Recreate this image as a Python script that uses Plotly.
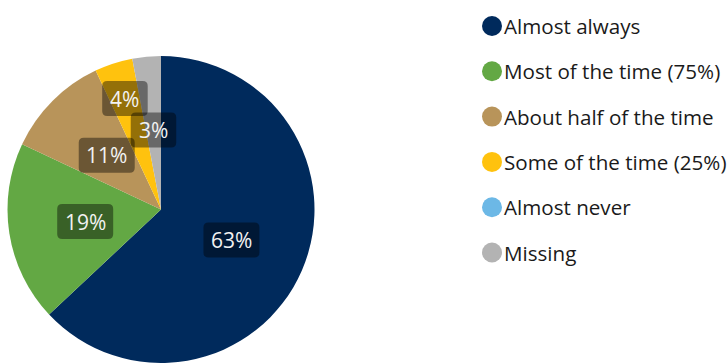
import math
import plotly.graph_objects as go

# Response categories and their shares (%)
categories = [
    "Almost always",
    "Most of the time (75%)",
    "About half of the time",
    "Some of the time (25%)",
    "Almost never",
    "Missing",
]
shares = [63, 19, 11, 4, 0, 3]
colors = ["#002A5C", "#63A844", "#B8945A", "#FFC20E", "#6CB8E6", "#B3B3B3"]
# radial placement of each value label, as a fraction of the radius
label_radius = [0.5, 0.5, 0.5, 0.76, 0.5, 0.52]

W, H = 728, 363
FONT = "Open Sans"

# pie placement in pixels
pie_left, pie_right, pie_top = 6, 316, 56
cx_px = (pie_left + pie_right) / 2
radius_px = min(pie_right - pie_left, H - pie_top) / 2
cy_px = pie_top + radius_px

fig = go.Figure(
    go.Pie(
        labels=categories,
        values=shares,
        marker=dict(colors=colors, line=dict(width=0)),
        sort=False,
        direction="clockwise",
        rotation=0,
        textinfo="none",
        hoverinfo="label+percent",
        showlegend=False,
        domain=dict(x=[pie_left / W, pie_right / W], y=[0, 1 - pie_top / H]),
    )
)

shapes = []
annotations = []


def rounded_rect(w, h, r):
    x0, x1, y0, y1 = -w / 2, w / 2, -h / 2, h / 2
    return (
        f"M {x0 + r},{y0} L {x1 - r},{y0} Q {x1},{y0} {x1},{y0 + r} "
        f"L {x1},{y1 - r} Q {x1},{y1} {x1 - r},{y1} "
        f"L {x0 + r},{y1} Q {x0},{y1} {x0},{y1 - r} "
        f"L {x0},{y0 + r} Q {x0},{y0} {x0 + r},{y0} Z"
    )


# value labels on dark rounded boxes, placed at each slice's mid-angle
total = sum(shares)
cum = 0
for val, frac in zip(shares, label_radius):
    start = cum
    cum += val
    if val == 0:
        continue
    mid = (start + val / 2) / total * 2 * math.pi
    px = cx_px + frac * radius_px * math.sin(mid)
    py = cy_px - frac * radius_px * math.cos(mid)
    xa, ya = px / W, 1 - py / H
    text = f"{round(val / total * 100)}%"
    digits = len(text) - 1
    bw = 10.5 * digits + 16 + 19
    bh = 35
    shapes.append(dict(
        type="path", xref="paper", yref="paper",
        xsizemode="pixel", ysizemode="pixel", xanchor=xa, yanchor=ya,
        path=rounded_rect(bw, bh, 5),
        fillcolor="rgba(0,0,0,0.42)", line=dict(width=0), layer="above",
    ))
    annotations.append(dict(
        x=xa, y=ya, xref="paper", yref="paper", text=text, showarrow=False,
        font=dict(family=FONT, size=21, color="#F2F2F2"),
        xanchor="center", yanchor="middle",
    ))

# legend: circle markers with category names
leg_x, leg_y0, leg_step, dot_d = 492, 26, 45.3, 20
for i, (name, col) in enumerate(zip(categories, colors)):
    y = 1 - (leg_y0 + i * leg_step) / H
    shapes.append(dict(
        type="circle", xref="paper", yref="paper",
        xsizemode="pixel", ysizemode="pixel", xanchor=leg_x / W, yanchor=y,
        x0=-dot_d / 2, x1=dot_d / 2, y0=-dot_d / 2, y1=dot_d / 2,
        fillcolor=col, line=dict(width=0),
    ))
    annotations.append(dict(
        x=(leg_x + dot_d / 2) / W, y=y, xref="paper", yref="paper",
        text=name, showarrow=False, xanchor="left", yanchor="middle",
        font=dict(family=FONT, size=20.6, color="#1A1A1A"),
    ))

fig.update_layout(
    width=None, height=None, autosize=True,
    margin=dict(l=0, r=0, t=0, b=0),
    paper_bgcolor="white", plot_bgcolor="white",
    shapes=shapes, annotations=annotations,
    font=dict(family=FONT),
)

fig.write_html("out.html", config={"displayModeBar": False})
